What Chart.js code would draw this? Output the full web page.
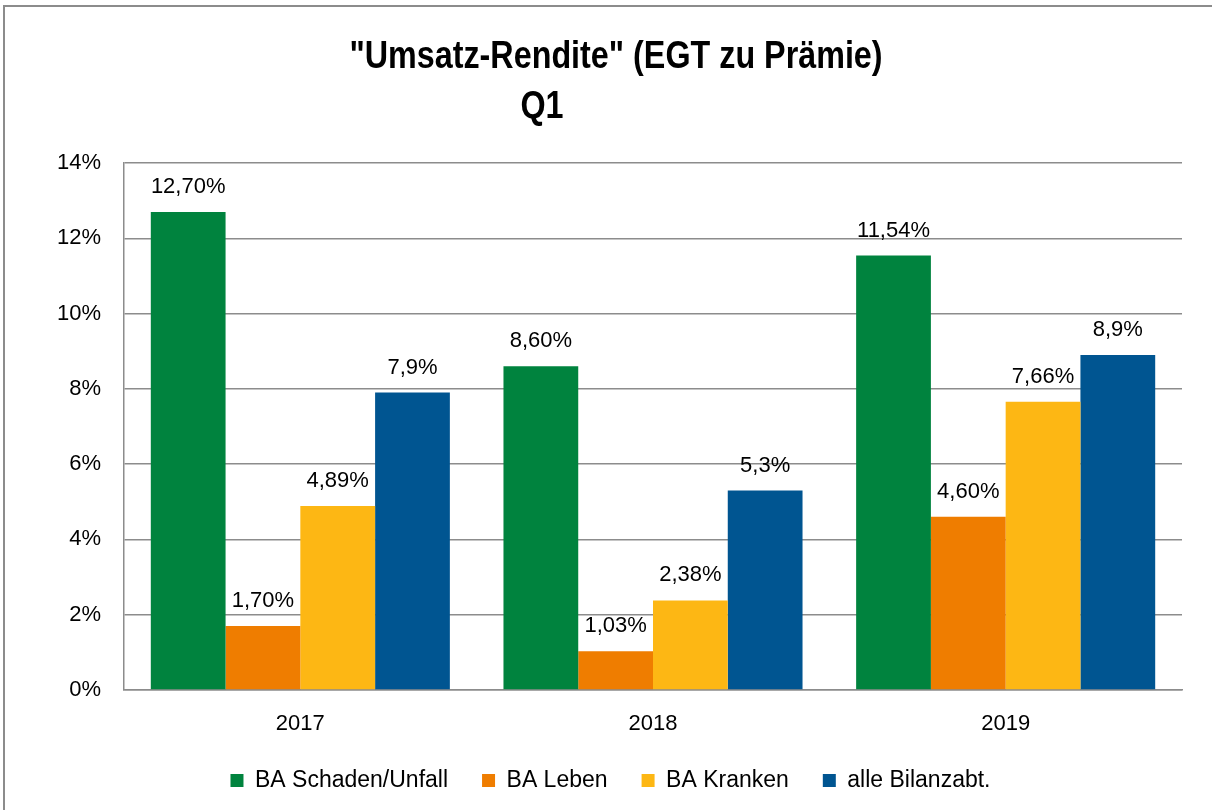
<!DOCTYPE html>
<html>
<head>
<meta charset="utf-8">
<script src="https://cdn.jsdelivr.net/npm/chart.js@4/dist/chart.umd.min.js"></script>
<style>
  html, body { margin: 0; padding: 0; background: #fff; }
  #wrap { position: relative; width: 1212px; height: 810px; overflow: hidden; }
  #frame { position: absolute; left: 3px; top: 5px; width: 1300px; height: 900px; border-left: 2px solid #8c8c8c; border-top: 2px solid #8c8c8c; box-sizing: border-box; pointer-events: none; }
  canvas { position: absolute; left: 0; top: 0; }
</style>
</head>
<body>
<div id="wrap">
  <canvas id="chart" width="1212" height="810"></canvas>
  <div id="frame"></div>
</div>
<script>
// ── data ──────────────────────────────────────────────
const titleText = '"Umsatz-Rendite" (EGT zu Prämie)';
const subtitleText = 'Q1';
const years = ['2017', '2018', '2019'];
const seriesNames = ['BA Schaden/Unfall', 'BA Leben', 'BA Kranken', 'alle Bilanzabt.'];
const schadenUnfall = [12.70, 8.60, 11.54];
const leben = [1.70, 1.03, 4.60];
const kranken = [4.89, 2.38, 7.66];
const alleBilanz = [7.9, 5.3, 8.9];
const labelDecimals = [2, 2, 2, 1];
const seriesColors = ['#00833e', '#ef7d00', '#fdb714', '#005591'];
const yTicks = [0, 2, 4, 6, 8, 10, 12, 14];

const gridGray = '#8c8c8c';
const textFont = '"Liberation Sans", Arial, sans-serif';
const fmtPct = (v, d) => v.toFixed(d).replace('.', ',') + '%';

// value labels above bars (no datalabels plugin available offline)
const barLabels = {
    id: 'barLabels',
    afterDatasetsDraw(chart) {
        const ctx = chart.ctx;
        ctx.save();
        ctx.font = '22px ' + textFont;
        ctx.fillStyle = '#000';
        ctx.textAlign = 'center';
        ctx.textBaseline = 'middle';
        chart.data.datasets.forEach((ds, i) => {
            chart.getDatasetMeta(i).data.forEach((bar, j) => {
                ctx.fillText(fmtPct(ds.data[j], labelDecimals[i]), bar.x, bar.y - 25);
            });
        });
        ctx.restore();
    }
};

// two-line heading, condensed bold; second line sits left of centre like the original
const heading = {
    id: 'heading',
    afterDraw(chart) {
        const ctx = chart.ctx;
        const sx = 0.85;
        ctx.save();
        ctx.font = 'bold 38px ' + textFont;
        ctx.fillStyle = '#000';
        ctx.textAlign = 'center';
        ctx.textBaseline = 'alphabetic';
        ctx.scale(sx, 1);
        ctx.fillText(titleText, 616 / sx, 68);
        ctx.fillText(subtitleText, 542 / sx, 118);
        ctx.restore();
    }
};

const seriesData = [schadenUnfall, leben, kranken, alleBilanz];

new Chart(document.getElementById('chart'), {
    type: 'bar',
    data: {
        labels: years,
        datasets: seriesNames.map((name, i) => ({
            label: name,
            data: seriesData[i],
            backgroundColor: seriesColors[i],
            borderWidth: 0,
            categoryPercentage: 0.848,
            barPercentage: 1.0
        }))
    },
    options: {
        responsive: false,
        animation: false,
        devicePixelRatio: 1,
        layout: { padding: { top: 163, right: 30, bottom: 8, left: 39 } },
        scales: {
            x: {
                grid: { display: false, drawTicks: false },
                border: { color: gridGray, width: 1.5 },
                ticks: { color: '#000', font: { family: textFont, size: 22 }, padding: 21 },
                afterFit: s => { s.height = 45; }
            },
            y: {
                min: 0,
                max: 14,
                afterBuildTicks: s => { s.ticks = yTicks.map(v => ({ value: v })); },
                grid: { color: gridGray, lineWidth: 1.5, drawTicks: false },
                border: { color: gridGray, width: 1.5 },
                ticks: {
                    color: '#000',
                    font: { family: textFont, size: 22 },
                    padding: 23,
                    callback: v => v + '%'
                },
                afterFit: s => { s.width = 85; }
            }
        },
        plugins: {
            legend: {
                position: 'bottom',
                labels: {
                    color: '#000',
                    font: { family: textFont, size: 23 },
                    boxWidth: 13,
                    boxHeight: 13,
                    padding: 34
                }
            },
            tooltip: { enabled: false },
            title: { display: false }
        }
    },
    plugins: [barLabels, heading]
});
</script>
</body>
</html>
